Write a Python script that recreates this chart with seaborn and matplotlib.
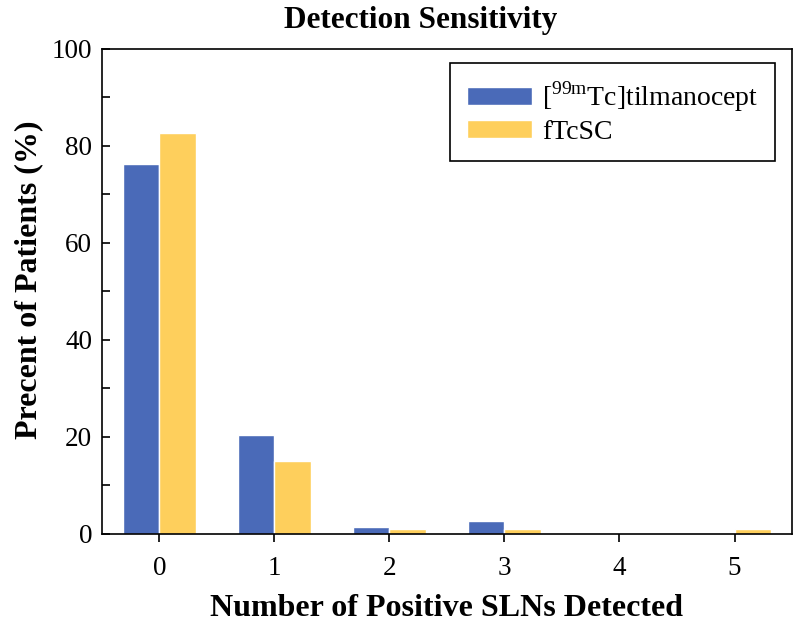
import pandas as pd
import matplotlib.pyplot as plt
import seaborn as sns
from matplotlib.ticker import MultipleLocator

# values
positives = ["0", "1", "2", "3", "4", "5"]
tilmanocept = [76.2, 20.3, 1.3, 2.5, 0.0, 0.0]
ftcsc = [82.6, 14.9, 0.9, 0.9, 0.0, 0.9]
series_names = ["[$^{99\\mathrm{m}}$Tc]tilmanocept", "fTcSC"]

data = pd.DataFrame({
    "positives": positives * 2,
    "percent": tilmanocept + ftcsc,
    "agent": [series_names[0]] * len(positives) + [series_names[1]] * len(positives),
})

sns.set_style("ticks")
plt.rcParams["font.family"] = ["Liberation Serif", "DejaVu Serif"]
plt.rcParams["mathtext.fontset"] = "custom"
plt.rcParams["mathtext.rm"] = "Liberation Serif"
plt.rcParams["text.color"] = "black"
plt.rcParams["axes.labelcolor"] = "black"
plt.rcParams["xtick.color"] = "black"
plt.rcParams["ytick.color"] = "black"

fig, ax = plt.subplots(figsize=(7.96, 6.24), dpi=100)
sns.barplot(data=data, x="positives", y="percent", hue="agent",
            palette=["#4A6AB8", "#FECF5C"], saturation=1, width=0.64,
            ax=ax, errorbar=None)

ax.set_xlim(-0.5, 5.5)
ax.set_ylim(0, 100)
ax.yaxis.set_major_locator(MultipleLocator(20))
ax.yaxis.set_minor_locator(MultipleLocator(10))
ax.tick_params(axis="y", which="both", direction="in", length=6, width=1.2, labelsize=19.5, pad=7)
ax.tick_params(axis="x", direction="out", length=6, width=1.2, labelsize=19.5, pad=10)
for s in ax.spines.values():
    s.set_visible(True)
    s.set_linewidth(1.2)
    s.set_color("black")

fig.suptitle("Detection Sensitivity", fontsize=22.5, fontweight="bold", x=0.528, y=0.99)
ax.set_xlabel("Number of Positive SLNs Detected", fontsize=23, fontweight="bold", labelpad=0)
ax.xaxis.set_label_coords(0.5, -0.125)
ax.set_ylabel("Precent of Patients (%)", fontsize=23, fontweight="bold", labelpad=0)
ax.yaxis.set_label_coords(-0.085, 0.523)

leg = ax.legend(loc="upper right", bbox_to_anchor=(0.975, 0.971), fontsize=20,
                frameon=True, fancybox=False, edgecolor="black", framealpha=1,
                handlelength=2.35, handleheight=0.65, handletextpad=0.35,
                borderpad=0.6, labelspacing=0.2, borderaxespad=0)
leg.get_frame().set_linewidth(1.2)

plt.subplots_adjust(left=0.128, right=0.995, top=0.922, bottom=0.145)
plt.savefig("out.png", dpi=100)
